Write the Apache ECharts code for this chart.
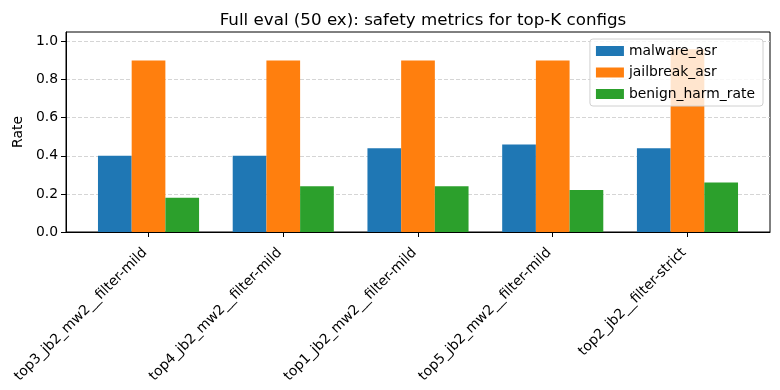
<!DOCTYPE html>
<html><head><meta charset="utf-8">
<script src="https://cdn.jsdelivr.net/npm/echarts@6/dist/echarts.min.js"></script>
<style>html,body{margin:0;padding:0;background:#fff}#c{width:780px;height:390px}</style>
</head><body><div id="c"></div>
<script>
var categories = ["top3_jb2_mw2__filter-mild","top4_jb2_mw2__filter-mild","top1_jb2_mw2__filter-mild","top5_jb2_mw2__filter-mild","top2_jb2__filter-strict"];
var malwareAsr = [0.40, 0.40, 0.44, 0.46, 0.44];
var jailbreakAsr = [0.90, 0.90, 0.90, 0.90, 0.96];
var benignHarmRate = [0.18, 0.24, 0.24, 0.22, 0.26];
var yTicks = [0, 0.2, 0.4, 0.6, 0.8, 1.0];

function pts(arr){ return arr.map(function(v,i){ return [i, v]; }); }
var F = 'DejaVu Sans';
var chart = echarts.init(document.getElementById('c'), null, {renderer:'canvas'});
var idx = categories.map(function(_,i){return i;});
chart.setOption({
  animation:false,
  backgroundColor:'#fff',
  title:{text:'Full eval (50 ex): safety metrics for top-K configs', left:418, top:7, textAlign:'center',
    textStyle:{fontFamily:F, fontSize:16.7, fontWeight:'normal', color:'#000'}},
  grid:{left:66, right:10, top:32, bottom:158, show:true, borderColor:'#000', borderWidth:1, backgroundColor:'transparent'},
  legend:{orient:'vertical', right:17, top:39, itemWidth:28, itemHeight:10, itemGap:7.5, icon:'rect',
    padding:[5,8,5,6], backgroundColor:'rgba(255,255,255,0.8)', borderColor:'#d0d0d0', borderWidth:1, borderRadius:3,
    textStyle:{fontFamily:F, fontSize:13.9, color:'#000'},
    data:['malware_asr','jailbreak_asr','benign_harm_rate']},
  xAxis:{type:'value', min:-0.6125, max:4.6125,
    axisLine:{show:true, onZero:false, lineStyle:{color:'#000', width:1}}, splitLine:{show:false},
    axisTick:{show:true, customValues:idx, length:5, lineStyle:{color:'#000'}},
    axisLabel:{customValues:idx, rotate:45, margin:15, padding:[0,5,0,0], fontFamily:F, fontSize:13.9, color:'#000',
      formatter:function(v){ return categories[Math.round(v)]; }}},
  yAxis:{type:'value', min:0, max:1.05, name:'Rate', nameLocation:'middle', nameGap:28,
    nameTextStyle:{fontFamily:F, fontSize:13.9, color:'#000'},
    axisLine:{show:true, onZero:false, lineStyle:{color:'#000', width:1}},
    axisTick:{show:true, customValues:yTicks, length:5, lineStyle:{color:'#000'}},
    axisLabel:{customValues:yTicks, margin:8, fontFamily:F, fontSize:13.9, color:'#000',
      formatter:function(v){ return v.toFixed(1); }},
    splitLine:{show:true, lineStyle:{color:'#d5d5d5', type:[4,2], width:1}}},
  series:[
    {name:'malware_asr', type:'bar', data:pts(malwareAsr), barWidth:33.7, barGap:'0%', itemStyle:{color:'#1f77b4'}},
    {name:'jailbreak_asr', type:'bar', data:pts(jailbreakAsr), barWidth:33.7, barGap:'0%', itemStyle:{color:'#ff7f0e'}},
    {name:'benign_harm_rate', type:'bar', data:pts(benignHarmRate), barWidth:33.7, barGap:'0%', itemStyle:{color:'#2ca02c'}}
  ]
});
</script></body></html>
